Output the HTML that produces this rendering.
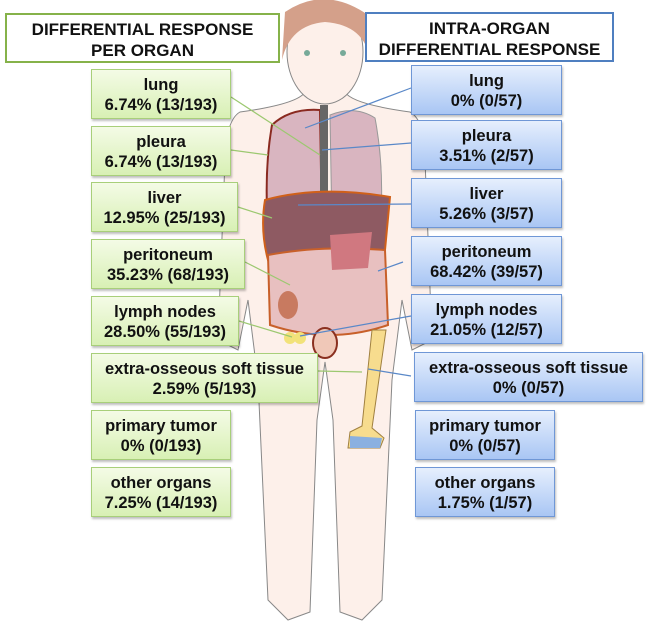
<!DOCTYPE html>
<html><head><style>
body{margin:0;width:650px;height:627px;background:#fff;position:relative;overflow:hidden;font-family:"Liberation Sans",Arial,sans-serif}
.b{position:absolute;box-sizing:border-box;height:50px;text-align:center;font-weight:bold;font-size:16.5px;line-height:20px;padding-top:5px;color:#111;white-space:nowrap}
.g{background:linear-gradient(#f4fbe6,#d8f0b4);border:1px solid #a8cf7a;box-shadow:1px 2px 2px rgba(0,0,0,.25)}
.u{background:linear-gradient(#e6effd,#a9c6f4);border:1px solid #6f97d6;box-shadow:1px 2px 2px rgba(0,0,0,.25)}
.t{position:absolute;box-sizing:border-box;background:#fff;text-align:center;font-weight:bold;font-size:17px;line-height:21px;padding-top:4px;color:#111}
svg{position:absolute;left:0;top:0}
</style></head><body>
<svg width="650" height="627">
<g fill="#fdf0ea" stroke="#888" stroke-width="1">
<path d="M240 112 Q298 104 305 92 L345 92 Q352 104 410 112 Q425 120 425 160 L432 340 L412 350 L402 300 L392 380 L382 600 L362 620 L340 612 L333 420 L325 362 L317 420 L310 612 L288 620 L268 600 L258 380 L248 300 L238 350 L218 340 L225 160 Q226 120 240 112Z"/>
<ellipse cx="325" cy="52" rx="38" ry="52"/>
</g>
<path d="M285 12 Q325 -15 368 15 L370 60 Q365 25 325 22 Q290 25 282 60Z" fill="#d4a08a"/>
<circle cx="307" cy="53" r="3" fill="#7a9"/><circle cx="343" cy="53" r="3" fill="#7a9"/>
<path d="M272 125 Q290 108 320 110 L322 232 L268 228 Q264 170 272 125Z" fill="#d9b5c0" stroke="#8a2a20" stroke-width="2"/>
<path d="M330 115 Q355 105 375 118 Q385 170 380 232 L332 230Z" fill="#d9b5c0" stroke="#999"/>
<rect x="320" y="105" width="8" height="100" fill="#666"/>
<path d="M265 200 Q320 185 390 197 L385 250 L268 260 Q260 230 265 200Z" fill="#8e5a62" stroke="#d0601a" stroke-width="2"/>
<path d="M268 255 Q320 245 385 250 L388 325 Q330 345 270 325Z" fill="#e8c0c0" stroke="#c8602a" stroke-width="2"/>
<path d="M330 235 L372 232 L368 268 L332 270Z" fill="#d07880"/>
<ellipse cx="288" cy="305" rx="10" ry="14" fill="#c87a60"/>
<circle cx="290" cy="338" r="6" fill="#f2e27a"/><circle cx="300" cy="338" r="6" fill="#f2e27a"/>
<ellipse cx="325" cy="343" rx="12" ry="15" fill="#f0c8b8" stroke="#8a3020" stroke-width="2"/>
<path d="M372 330 L386 330 L372 428 L384 438 L380 448 L348 448 L350 432 L362 426Z" fill="#f7dc8e" stroke="#a08040"/>
<path d="M350 436 L382 438 L380 448 L350 448Z" fill="#8ab0e0"/>
<g stroke="#9cc870" stroke-width="1.2">
<line x1="231" y1="97" x2="320" y2="155"/><line x1="231" y1="150" x2="268" y2="155"/>
<line x1="238" y1="207" x2="272" y2="218"/><line x1="245" y1="262" x2="290" y2="285"/>
<line x1="239" y1="321" x2="292" y2="337"/><line x1="318" y1="371" x2="362" y2="372"/>
</g>
<g stroke="#5a88c8" stroke-width="1.2">
<line x1="411" y1="88" x2="305" y2="128"/><line x1="411" y1="143" x2="322" y2="150"/>
<line x1="411" y1="204" x2="298" y2="205"/><line x1="403" y1="262" x2="378" y2="271"/>
<line x1="411" y1="316" x2="300" y2="336"/><line x1="411" y1="376" x2="368" y2="369"/>
</g>
</svg>
<div class="t" style="left:5px;top:13px;width:275px;height:50px;border:2px solid #86b24a">DIFFERENTIAL RESPONSE<br>PER ORGAN</div>
<div class="t" style="left:365px;top:12px;width:249px;height:50px;border:2px solid #4f7fc0">INTRA-ORGAN<br>DIFFERENTIAL RESPONSE</div>
<div class="b g" style="left:91px;top:69px;width:140px">lung<br>6.74% (13/193)</div>
<div class="b g" style="left:91px;top:126px;width:140px">pleura<br>6.74% (13/193)</div>
<div class="b g" style="left:91px;top:182px;width:147px">liver<br>12.95% (25/193)</div>
<div class="b g" style="left:91px;top:239px;width:154px">peritoneum<br>35.23% (68/193)</div>
<div class="b g" style="left:91px;top:296px;width:148px">lymph nodes<br>28.50% (55/193)</div>
<div class="b g" style="left:91px;top:353px;width:227px">extra-osseous soft tissue<br>2.59% (5/193)</div>
<div class="b g" style="left:91px;top:410px;width:140px">primary tumor<br>0% (0/193)</div>
<div class="b g" style="left:91px;top:467px;width:140px">other organs<br>7.25% (14/193)</div>
<div class="b u" style="left:411px;top:65px;width:151px">lung<br>0% (0/57)</div>
<div class="b u" style="left:411px;top:120px;width:151px">pleura<br>3.51% (2/57)</div>
<div class="b u" style="left:411px;top:178px;width:151px">liver<br>5.26% (3/57)</div>
<div class="b u" style="left:411px;top:236px;width:151px">peritoneum<br>68.42% (39/57)</div>
<div class="b u" style="left:411px;top:294px;width:151px">lymph nodes<br>21.05% (12/57)</div>
<div class="b u" style="left:414px;top:352px;width:229px">extra-osseous soft tissue<br>0% (0/57)</div>
<div class="b u" style="left:415px;top:410px;width:140px">primary tumor<br>0% (0/57)</div>
<div class="b u" style="left:415px;top:467px;width:140px">other organs<br>1.75% (1/57)</div>
</body></html>
